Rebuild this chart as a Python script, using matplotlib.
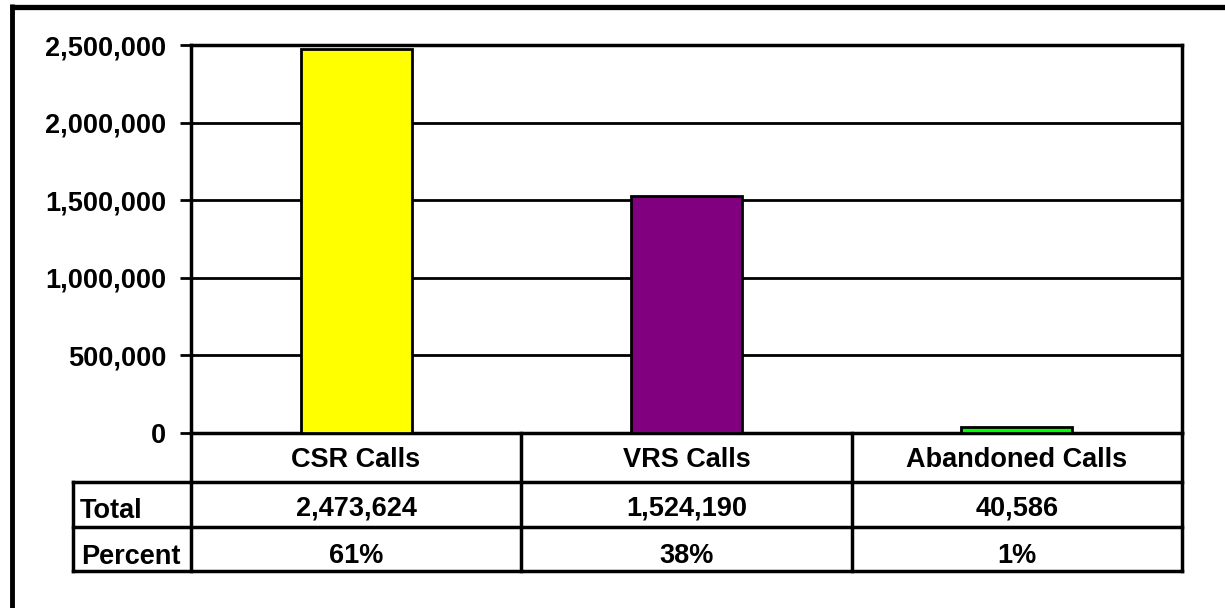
import matplotlib
matplotlib.use("Agg")
import matplotlib.pyplot as plt
from matplotlib.lines import Line2D
from matplotlib.ticker import FuncFormatter

categories = ["CSR Calls", "VRS Calls", "Abandoned Calls"]
totals = [2473624, 1524190, 40586]
percents = ["61%", "38%", "1%"]
row_labels = ["Total", "Percent"]
colors = ["#FFFF00", "#800080", "#00FF00"]
yticks = [0, 500000, 1000000, 1500000, 2000000, 2500000]

W, H = 1225, 608
plt.rcParams['font.family'] = ['Liberation Sans', 'DejaVu Sans']
plt.rcParams['font.weight'] = 'bold'
fig = plt.figure(figsize=(W / 100, H / 100), dpi=100)

def fx(x):
    return x / W

def fy(y):
    return 1 - y / H

fs = 19.5

L, R, T, B = 191, 1182, 45, 433
ax = fig.add_axes([fx(L), fy(B), fx(R) - fx(L), fy(T) - fy(B)])
xs = list(range(len(categories)))
ax.bar(xs, totals, width=0.336, color=colors, edgecolor="black", linewidth=2, zorder=3)
ax.set_xlim(-0.5, len(categories) - 0.5)
ax.set_ylim(0, 2500000)
ax.set_yticks(yticks)
ax.yaxis.set_major_formatter(FuncFormatter(lambda v, p: f"{int(v):,}"))
ax.set_xticks([])
ax.grid(axis="y", color="black", linewidth=2, zorder=1)
for s in ax.spines.values():
    s.set_linewidth(2.5)
    s.set_color("black")
ax.tick_params(axis="y", length=8, width=2, pad=10, labelsize=fs)
for lab in ax.get_yticklabels():
    lab.set_fontweight("bold")

lw = 2.5
def hline(y, x0, x1, w=lw):
    fig.add_artist(Line2D([fx(x0), fx(x1)], [fy(y), fy(y)], color="black", linewidth=w,
                          transform=fig.transFigure, solid_capstyle="projecting"))

def vline(x, y0, y1, w=lw):
    fig.add_artist(Line2D([fx(x), fx(x)], [fy(y0), fy(y1)], color="black", linewidth=w,
                          transform=fig.transFigure, solid_capstyle="projecting"))

# table grid
col_edges = [191, 521, 852, 1182]
hline(482, 73, 1182)
hline(527, 73, 1182)
hline(571, 73, 1182)
vline(73, 482, 571)
for x in col_edges:
    vline(x, 433, 571)

centers = [(col_edges[i] + col_edges[i + 1]) / 2 for i in range(3)]
for c, name in zip(centers, categories):
    fig.text(fx(c), fy(467), name, ha="center", va="baseline", fontsize=fs, fontweight="bold")
for c, v in zip(centers, totals):
    fig.text(fx(c), fy(515), f"{v:,}", ha="center", va="baseline", fontsize=fs, fontweight="bold")
for c, p in zip(centers, percents):
    fig.text(fx(c), fy(563), p, ha="center", va="baseline", fontsize=fs, fontweight="bold")
fig.text(fx(80), fy(518), row_labels[0], ha="left", va="baseline", fontsize=fs, fontweight="bold")
fig.text(fx(81), fy(564), row_labels[1], ha="left", va="baseline", fontsize=fs, fontweight="bold")

# outer frame (top and left visible)
fig.add_artist(Line2D([fx(10), 1.0], [fy(6.5), fy(6.5)], color="black", linewidth=3.8,
                      transform=fig.transFigure, solid_capstyle="butt"))
fig.add_artist(Line2D([fx(12), fx(12)], [fy(4), 0.0], color="black", linewidth=3.5,
                      transform=fig.transFigure, solid_capstyle="butt"))

fig.savefig("out.png", dpi=100)
